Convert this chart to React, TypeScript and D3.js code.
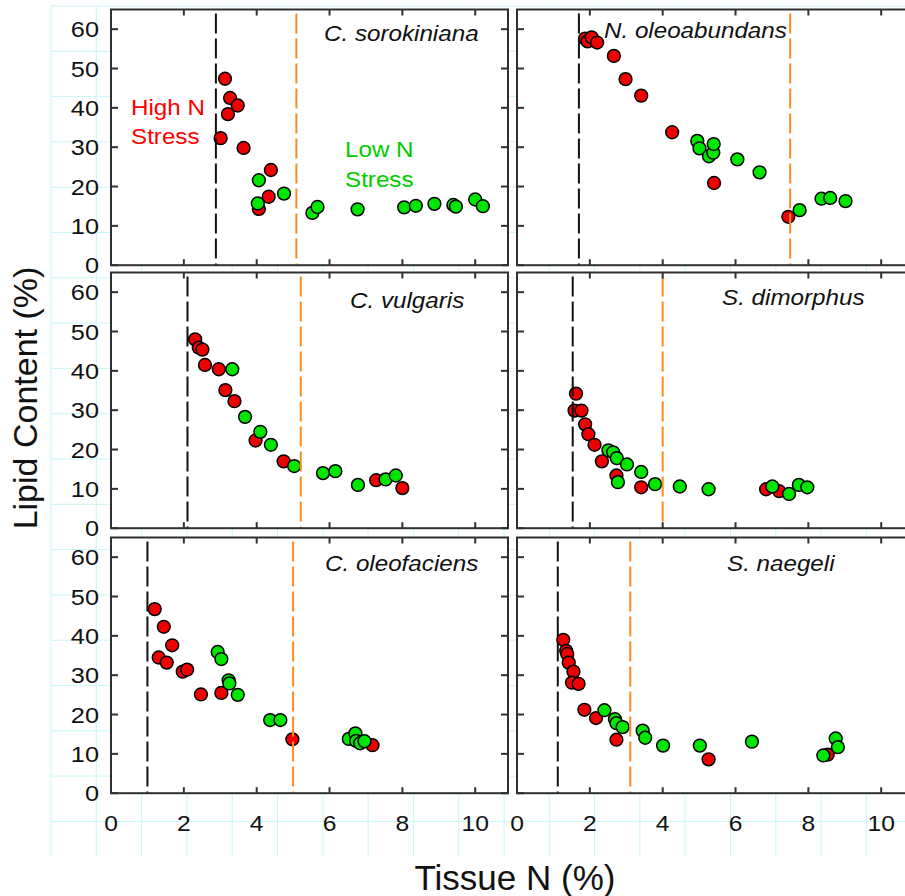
import React from "react";
import * as d3 from "d3";

// lipid content vs tissue N, six species, 3x2 panels

const xTicks = [0, 2, 4, 6, 8, 10];
const yTicks = [0, 10, 20, 30, 40, 50, 60];

const speciesNames = [
  "C. sorokiniana",
  "N. oleoabundans",
  "C. vulgaris",
  "S. dimorphus",
  "C. oleofaciens",
  "S. naegeli",
];

// black dashed (high N stress limit) and orange dashed (low N stress limit)
const highNLine = [2.88, 1.7, 2.1, 1.53, 1.0, 1.12];
const lowNLine = [5.09, 7.5, 5.21, 4.0, 5.0, 3.11];

const sorokinianaRed = [
  [3.13, 47.4], [3.27, 42.5], [3.48, 40.6], [3.21, 38.4], [3.01, 32.3],
  [3.64, 29.8], [4.39, 24.2], [4.33, 17.4], [4.06, 14.3],
];
const sorokinianaGreen = [
  [4.06, 21.6], [4.03, 15.7], [4.75, 18.2], [5.53, 13.3], [5.67, 14.8],
  [6.77, 14.2], [8.05, 14.7], [8.37, 15.1], [8.88, 15.6], [9.4, 15.3],
  [9.47, 14.9], [10.0, 16.7], [10.21, 15.0],
];

const oleoabundansRed = [
  [1.87, 57.6], [1.94, 56.9], [2.05, 57.9], [2.2, 56.6], [2.66, 53.2],
  [2.98, 47.3], [3.41, 43.1], [4.26, 33.8], [5.41, 20.9], [7.45, 12.3],
];
const oleoabundansGreen = [
  [4.95, 31.6], [5.01, 29.7], [5.27, 27.7], [5.39, 28.6], [5.4, 30.8],
  [6.05, 26.9], [6.66, 23.6], [7.76, 14.0], [8.36, 16.9], [8.6, 17.1],
  [9.02, 16.3],
];

const vulgarisRed = [
  [2.31, 48.0], [2.41, 45.9], [2.51, 45.4], [2.58, 41.5], [2.96, 40.4],
  [3.14, 35.1], [3.39, 32.3], [3.97, 22.3], [4.74, 17.0], [7.28, 12.2],
  [8.0, 10.2],
];
const vulgarisGreen = [
  [3.33, 40.4], [3.68, 28.3], [4.1, 24.5], [4.39, 21.2], [5.03, 15.8],
  [5.82, 14.0], [6.16, 14.5], [6.78, 11.0], [7.54, 12.4], [7.82, 13.4],
];

const dimorphusRed = [
  [1.62, 34.2], [1.58, 29.9], [1.77, 29.9], [1.87, 26.4], [1.96, 23.9],
  [2.13, 21.2], [2.33, 17.0], [2.73, 13.4], [3.41, 10.4], [6.84, 9.9],
  [7.2, 9.4],
];
const dimorphusGreen = [
  [2.51, 19.8], [2.64, 19.3], [2.74, 17.8], [3.02, 16.2], [3.41, 14.3],
  [2.77, 11.7], [3.79, 11.2], [4.47, 10.6], [5.26, 9.9], [7.01, 10.6],
  [7.47, 8.7], [7.74, 11.0], [7.97, 10.4],
];

const oleofaciensRed = [
  [1.2, 46.8], [1.45, 42.3], [1.68, 37.6], [1.31, 34.5], [1.53, 33.2],
  [1.97, 30.9], [2.09, 31.4], [2.47, 25.1], [3.03, 25.5], [4.98, 13.7],
  [7.18, 12.2],
];
const oleofaciensGreen = [
  [2.93, 35.9], [3.03, 34.1], [3.23, 28.7], [3.25, 27.9], [3.48, 25.0],
  [4.37, 18.6], [4.65, 18.6], [6.53, 13.8], [6.71, 15.2], [6.73, 13.3],
  [6.84, 12.7], [6.96, 13.2],
];

const naegeliRed = [
  [1.27, 39.0], [1.35, 36.2], [1.38, 35.4], [1.42, 33.2], [1.55, 30.9],
  [1.51, 28.1], [1.69, 27.8], [1.85, 21.2], [2.17, 19.1], [2.73, 13.6],
  [5.26, 8.6], [8.53, 9.8],
];
const naegeliGreen = [
  [2.4, 21.1], [2.69, 18.8], [2.73, 17.8], [2.9, 16.8], [3.45, 15.9],
  [3.52, 14.1], [4.01, 12.1], [5.02, 12.1], [6.45, 13.1], [8.41, 9.6],
  [8.75, 13.9], [8.81, 11.7],
];

const redSets = [sorokinianaRed, oleoabundansRed, vulgarisRed, dimorphusRed, oleofaciensRed, naegeliRed];
const greenSets = [sorokinianaGreen, oleoabundansGreen, vulgarisGreen, dimorphusGreen, oleofaciensGreen, naegeliGreen];

// layout
const W = 905, H = 896;
const colX = [111, 517];
const rowY = [9.5, 272.5, 537.5];
const PW = 397, PH = 255.7;
// species label position inside each panel (left, baseline)
const labelPos = [[213, 31.5], [87, 28], [239, 35], [205, 32.5], [214, 33.2], [210, 33.2]];

const FONT = "'Liberation Sans', Arial, Helvetica, sans-serif";
const RED = "#ee0000";
const GREEN = "#00e600";
const ORANGE = "#ff8a1c";
const AXIS = "#303030";
const GRID = "#c9f6f6";

const xScale = d3.scaleLinear().domain([0, 10.9]).range([0, PW]);
const yScale = d3.scaleLinear().domain([0, 65]).range([PH, 0]);

function Panel({ i }: { i: number }) {
  const col = i % 2, row = Math.floor(i / 2);
  const x0 = colX[col], y0 = rowY[row];
  const [lx, ly] = labelPos[i];
  return (
    <g transform={`translate(${x0},${y0})`}>
      <rect x={0} y={0} width={PW} height={PH} fill="white" />
      {redSets[i].map(([x, y], k) => (
        <circle key={"r" + k} cx={xScale(x)} cy={yScale(y)} r={6.4} fill={RED} stroke="black" strokeWidth={1.5} />
      ))}
      {greenSets[i].map(([x, y], k) => (
        <circle key={"g" + k} cx={xScale(x)} cy={yScale(y)} r={6.4} fill={GREEN} stroke="black" strokeWidth={1.5} />
      ))}
      <line x1={xScale(highNLine[i])} x2={xScale(highNLine[i])} y1={4} y2={PH} stroke="#111" strokeWidth={2} strokeDasharray="20,5" />
      <line x1={xScale(lowNLine[i])} x2={xScale(lowNLine[i])} y1={4} y2={PH} stroke={ORANGE} strokeWidth={2} strokeDasharray="20,5" />
      {/* inward ticks */}
      {xTicks.map((t) => (
        <g key={"xt" + t}>
          <line x1={xScale(t)} x2={xScale(t)} y1={0} y2={6} stroke={AXIS} strokeWidth={2} />
          <line x1={xScale(t)} x2={xScale(t)} y1={PH} y2={PH - 6} stroke={AXIS} strokeWidth={2} />
        </g>
      ))}
      {yTicks.map((t) => (
        <g key={"yt" + t}>
          <line x1={0} x2={7} y1={yScale(t)} y2={yScale(t)} stroke={AXIS} strokeWidth={2} />
          <line x1={PW} x2={PW - 7} y1={yScale(t)} y2={yScale(t)} stroke={AXIS} strokeWidth={2} />
        </g>
      ))}
      <rect x={0} y={0} width={PW} height={PH} fill="none" stroke={AXIS} strokeWidth={2} />
      <text transform={`translate(${lx},${ly}) scale(1.1,1)`} fontFamily={FONT} fontSize={22} fontStyle="italic" fill="#111">
        {speciesNames[i]}
      </text>
      {col === 0 &&
        yTicks.map((t) => (
          <text key={"yl" + t} transform={`translate(-12,${yScale(t) + 8}) scale(1.15,1)`} textAnchor="end"
            fontFamily={FONT} fontSize={22} fill="#111">
            {t}
          </text>
        ))}
      {row === 2 &&
        xTicks.map((t) => (
          <text key={"xl" + t} transform={`translate(${xScale(t)},${PH + 37.5}) scale(1.12,1)`} textAnchor="middle"
            fontFamily={FONT} fontSize={22} fill="#111">
            {t}
          </text>
        ))}
    </g>
  );
}

export default function App() {
  const gridStep = 45.3;
  const vLines = d3.range(51, W + 1, gridStep);
  const hLines = d3.range(6, 830, gridStep);
  return (
    <svg width={W} height={H} style={{ position: "absolute", left: 0, top: 0, background: "white" }}>
      <rect width={W} height={H} fill="white" />
      {vLines.map((x) => (
        <line key={"gv" + x} x1={x} x2={x} y1={6} y2={857} stroke={GRID} strokeWidth={1} />
      ))}
      {hLines.map((y) => (
        <line key={"gh" + y} x1={51} x2={W} y1={y} y2={y} stroke={GRID} strokeWidth={1} />
      ))}
      {speciesNames.map((_, i) => (
        <Panel key={i} i={i} />
      ))}
      <g fontFamily={FONT} fontSize={22}>
        <text transform="translate(131,115) scale(1.1,1)" fill="#ff0000">High N</text>
        <text transform="translate(131,144) scale(1.1,1)" fill="#ff0000">Stress</text>
        <text transform="translate(345,156.5) scale(1.1,1)" fill="#00cc00">Low N</text>
        <text transform="translate(345,186.5) scale(1.1,1)" fill="#00cc00">Stress</text>
      </g>
      <text transform="translate(37,398) rotate(-90)" textAnchor="middle" fontFamily={FONT} fontSize={34} fill="#111">
        Lipid Content (%)
      </text>
      <text x={515} y={890} textAnchor="middle" fontFamily={FONT} fontSize={35} fill="#111">
        Tissue N (%)
      </text>
    </svg>
  );
}
